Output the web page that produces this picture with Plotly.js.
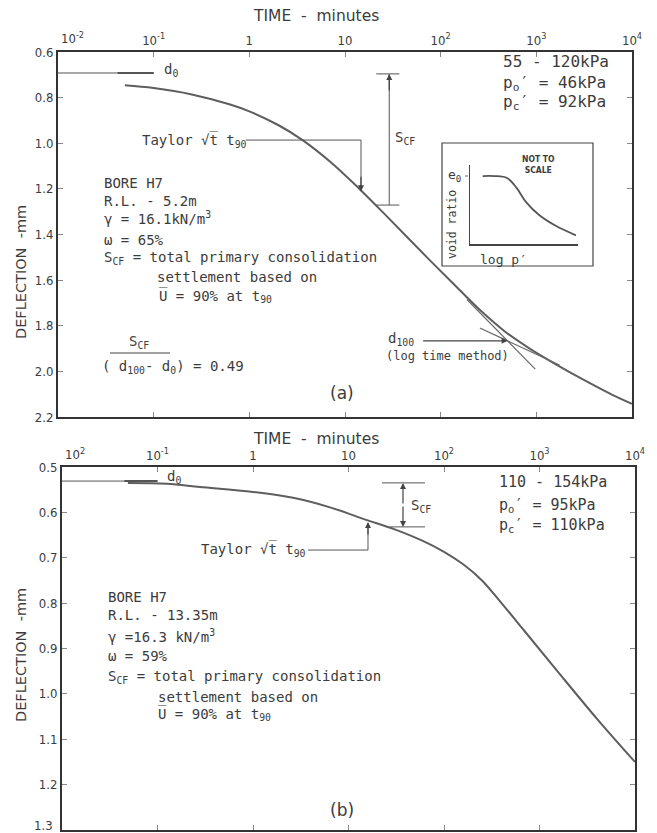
<!DOCTYPE html>
<html><head><meta charset="utf-8">
<script src="https://cdn.plot.ly/plotly-3.0.1.min.js"></script>
<style>html,body{margin:0;padding:0;background:#fff}#chart{width:657px;height:833px}</style>
</head><body><div id="chart"></div>
<script>
// ---------- data ----------
const timeTickVals = [0.01, 0.1, 1, 10, 100, 1000, 10000];
const timeTickTextA = ['10<sup>-2</sup>', '10<sup>-1</sup>', '1', '10', '10<sup>2</sup>', '10<sup>3</sup>', '10<sup>4</sup>'];
const timeTickTextB = ['10<sup>2</sup>', '10<sup>-1</sup>', '1', '10', '10<sup>2</sup>', '10<sup>3</sup>', '10<sup>4</sup>'];
const deflTicksA = [0.6, 0.8, 1.0, 1.2, 1.4, 1.6, 1.8, 2.0, 2.2];
const deflTicksB = [0.5, 0.6, 0.7, 0.8, 0.9, 1.0, 1.1, 1.2, 1.3];

// panel (a) consolidation curve (time in minutes, deflection in mm)
const timeA = [0.05, 0.1, 0.25, 0.63, 1, 2, 3.6, 7.1, 14, 28.4, 75, 155, 270, 472, 844, 1585, 3281, 6310, 10000];
const deflA = [0.746, 0.758, 0.786, 0.83, 0.86, 0.92, 0.986, 1.083, 1.198, 1.327, 1.508, 1.640, 1.739, 1.826, 1.899, 1.968, 2.042, 2.104, 2.142];
// log time method tangents (a)
const steepTangentTime = [188, 975];
const steepTangentDefl = [1.685, 1.99];
const tailTangentTime = [257, 1746];
const tailTangentDefl = [1.81, 1.972];
// construction values (a)
const d0A = 0.692, d100A = 1.866, t100A = 501;
const taylorStartA = 0.92, t90A = 14.7, taylorDeflA = 0.986, t90DeflA = 1.21;
const scfTimeA = 29, scfTopA = 0.696, scfBottomA = 1.271, scfCapA = [21.2, 37];

// panel (b) consolidation curve
const timeB = [0.049, 0.126, 0.279, 1, 2.63, 6.4, 15.6, 30, 60, 100, 160, 250, 400, 700, 1500, 4000, 10000];
const deflB = [0.535, 0.537, 0.544, 0.555, 0.568, 0.589, 0.617, 0.637, 0.663, 0.687, 0.715, 0.750, 0.800, 0.862, 0.947, 1.055, 1.150];
// construction values (b)
const d0B = 0.531;
const taylorStartB = 3.77, t90B = 16.0, taylorDeflB = 0.683, t90DeflB = 0.621;
const scfTimeB = 37.2, scfTopB = 0.535, scfBottomB = 0.632, scfTopCapB = [22.4, 63.2], scfBottomCapB = [27.2, 63.2];

// inset (not to scale) void ratio vs log p'
const insetLogP = [0.12, 0.23, 0.35, 0.44, 0.53, 0.65, 0.81, 1.0];
const insetVoid = [0.86, 0.86, 0.835, 0.71, 0.53, 0.37, 0.23, 0.11];

// ---------- helpers ----------
const W = 657, H = 833;
const px = x => x / W;
const py = y => 1 - y / H;
const FONT = 'DejaVu Sans Mono, monospace';
const FONT_T = 'DejaVu Sans, sans-serif';
const FONT_TICK = 'DejaVu Sans Condensed, DejaVu Sans, sans-serif';
const INK = '#3c3c3c';
const LINE = '#555';
const L10 = Math.log10;

const traces = [
  {x: timeA, y: deflA, xaxis: 'x', yaxis: 'y', mode: 'lines', line: {color: '#5e5e5e', width: 2, shape: 'spline', smoothing: 1}},
  {x: steepTangentTime, y: steepTangentDefl, xaxis: 'x', yaxis: 'y', mode: 'lines', line: {color: '#6a6a6a', width: 1.2}},
  {x: tailTangentTime, y: tailTangentDefl, xaxis: 'x', yaxis: 'y', mode: 'lines', line: {color: '#6a6a6a', width: 1.2}},
  {x: [0.01, 0.1], y: [d0A, d0A], xaxis: 'x', yaxis: 'y', mode: 'lines', line: {color: LINE, width: 1}},
  {x: [0.042, 0.1], y: [d0A, d0A], xaxis: 'x', yaxis: 'y', mode: 'lines', line: {color: LINE, width: 2}},
  {x: [taylorStartA, t90A, t90A], y: [taylorDeflA, taylorDeflA, t90DeflA], xaxis: 'x', yaxis: 'y', mode: 'lines', line: {color: LINE, width: 1}},
  {x: [scfTimeA, scfTimeA, null, scfCapA[0], scfCapA[1], null, scfCapA[0], scfCapA[1]],
   y: [scfTopA, scfBottomA, null, scfTopA, scfTopA, null, scfBottomA, scfBottomA], xaxis: 'x', yaxis: 'y', mode: 'lines', line: {color: LINE, width: 1}},

  {x: timeB, y: deflB, xaxis: 'x2', yaxis: 'y2', mode: 'lines', line: {color: '#5e5e5e', width: 2, shape: 'spline', smoothing: 1}},
  {x: [0.01, 0.1], y: [d0B, d0B], xaxis: 'x2', yaxis: 'y2', mode: 'lines', line: {color: LINE, width: 1}},
  {x: [0.045, 0.1], y: [d0B, d0B], xaxis: 'x2', yaxis: 'y2', mode: 'lines', line: {color: LINE, width: 2}},
  {x: [taylorStartB, t90B, t90B], y: [taylorDeflB, taylorDeflB, t90DeflB + 0.012], xaxis: 'x2', yaxis: 'y2', mode: 'lines', line: {color: LINE, width: 1}},
  {x: [scfTopCapB[0], scfTopCapB[1], null, scfBottomCapB[0], scfBottomCapB[1]],
   y: [scfTopB, scfTopB, null, scfBottomB, scfBottomB], xaxis: 'x2', yaxis: 'y2', mode: 'lines', line: {color: LINE, width: 1}},

  {x: insetLogP, y: insetVoid, xaxis: 'x3', yaxis: 'y3', mode: 'lines', line: {color: '#555', width: 1.8, shape: 'spline'}}
];

const axisCommon = {
  type: 'log', range: [-2, 4], tickvals: timeTickVals, ticks: 'inside', ticklen: 5, tickwidth: 1, tickcolor: '#888',
  showline: true, linecolor: '#333', linewidth: 2, mirror: 'ticks', showgrid: false, zeroline: false,
  tickfont: {family: FONT_TICK, size: 13, color: INK}, side: 'top'
};
const yCommon = {
  ticks: 'inside', ticklen: 5, tickwidth: 1, tickcolor: '#888', showline: true, linecolor: '#333', linewidth: 2,
  mirror: 'ticks', showgrid: false, zeroline: false, tickfont: {family: FONT_TICK, size: 13, color: INK}
};

// labels at the very corners are drawn as annotations (beside the corner, as in the figure)
const tickTextShownA = timeTickTextA.map((t, i) => i === 0 ? '' : t);
const tickTextShownB = timeTickTextB.map((t, i) => i === 0 ? '' : t);
const deflTextB = deflTicksB.map((v, i) => i === deflTicksB.length - 1 ? '' : v.toFixed(1));

const layout = {
  width: W, height: H, margin: {l: 0, r: 0, t: 0, b: 0}, showlegend: false,
  paper_bgcolor: '#fff', plot_bgcolor: 'rgba(0,0,0,0)',
  xaxis: Object.assign({}, axisCommon, {domain: [px(58), px(632)], anchor: 'y', ticktext: tickTextShownA}),
  yaxis: Object.assign({}, yCommon, {domain: [py(417), py(52)], anchor: 'x', range: [2.2, 0.6], tickvals: deflTicksA, ticktext: deflTicksA.map(v => v.toFixed(1))}),
  xaxis2: Object.assign({}, axisCommon, {domain: [px(62), px(635)], anchor: 'y2', ticktext: tickTextShownB}),
  yaxis2: Object.assign({}, yCommon, {domain: [py(830), py(467)], anchor: 'x2', range: [1.3, 0.5], tickvals: deflTicksB, ticktext: deflTextB}),
  xaxis3: {domain: [px(470), px(578)], anchor: 'y3', range: [0, 1.02], showline: true, linecolor: '#444', linewidth: 1.5, ticks: '', showticklabels: false, showgrid: false, zeroline: false},
  yaxis3: {domain: [py(244), py(165)], anchor: 'x3', range: [0, 1], showline: true, linecolor: '#444', linewidth: 1.5, ticks: '', showticklabels: false, showgrid: false, zeroline: false},
  shapes: [
    {type: 'rect', xref: 'paper', yref: 'paper', x0: px(442), x1: px(593), y0: py(143), y1: py(266), line: {color: '#444', width: 1.2}},
    {type: 'line', xref: 'paper', yref: 'paper', x0: px(465), x1: px(470), y0: py(176), y1: py(176), line: {color: '#666', width: 1, dash: 'dot'}},
    {type: 'line', xref: 'paper', yref: 'paper', x0: px(110), x1: px(170), y0: py(353), y1: py(353), line: {color: '#444', width: 1}}
  ],
  annotations: []
};

function txt(text, x, y, size, opts, fam) {
  layout.annotations.push(Object.assign({
    text: text, xref: 'paper', yref: 'paper', x: px(x), y: py(y), xanchor: 'left', yanchor: 'middle',
    showarrow: false, font: {family: fam || FONT, size: size, color: INK}
  }, opts || {}));
}
function arrow(xr, yr, x, y, ax, ay) {
  layout.annotations.push({text: '', xref: xr, yref: yr, x: x, y: y, ax: ax, ay: ay, showarrow: true,
    arrowhead: 2, arrowsize: 1, arrowwidth: 1.2, arrowcolor: '#444'});
}

// axis titles and corner tick labels
txt('TIME  -  minutes', 316, 16, 15.5, {xanchor: 'center'}, FONT_T);
txt('TIME  -  minutes', 316, 439, 15.5, {xanchor: 'center'}, FONT_T);
txt('DEFLECTION  -mm', 21, 272, 14.5, {xanchor: 'center', textangle: -90}, FONT_T);
txt('DEFLECTION  -mm', 21, 655, 14.5, {xanchor: 'center', textangle: -90}, FONT_T);
txt(timeTickTextA[0], 59, 38, 13, {}, FONT_TICK);
txt(timeTickTextB[0], 63, 454, 13, {}, FONT_TICK);
txt(deflTicksB[deflTicksB.length - 1].toFixed(1), 55, 825, 13, {xanchor: 'right'}, FONT_TICK);

// panel (a) texts
txt('d<sub>0</sub>', 162, 70, 14);
txt('55 - 120kPa', 501, 61, 16);
txt('p<sub>o</sub>\u2032 = 46kPa', 501, 84, 16);
txt('p<sub>c</sub>\u2032 = 92kPa', 501, 103, 16);
txt('Taylor \u221At\u0305 t<sub>90</sub>', 140, 140, 14);
txt('S<sub>CF</sub>', 393, 138, 14);
txt('BORE H7', 102, 183, 14);
txt('R.L. - 5.2m', 102, 201, 14);
txt('\u03B3 = 16.1kN/m<sup>3</sup>', 102, 218, 14);
txt('\u03C9 = 65%', 102, 240, 14);
txt('S<sub>CF</sub> = total primary consolidation', 102, 258, 14);
txt('settlement based on', 155, 277, 14);
txt('U\u0305 = 90% at t<sub>90</sub>', 157, 296, 14);
txt('S<sub>CF</sub>', 127, 342, 14);
txt('( d<sub>100</sub>- d<sub>0</sub>) = 0.49', 100, 367, 14);
txt('d<sub>100</sub>', 386, 339, 14);
txt('(log time method)', 384, 356, 12);
txt('(a)', 342, 393, 17, {xanchor: 'center'}, FONT_T);
// inset texts
txt('e<sub>0</sub>', 454, 175, 13, {xanchor: 'center'});
txt('<b>NOT TO<br>SCALE</b>', 538, 165, 8.5, {xanchor: 'center'}, FONT_TICK);
txt('void ratio', 452, 225, 11.5, {xanchor: 'center', textangle: -90});
txt('log p\u2032', 503, 259, 13, {xanchor: 'center'});

// panel (a) arrows
arrow('x', 'y', L10(t100A), d100A, -86, 0);
arrow('x', 'y', L10(t90A), t90DeflA, 0, -16);
arrow('x', 'y', L10(scfTimeA), scfTopA, 0, 18);

// panel (b) texts
txt('d<sub>0</sub>', 165, 477, 14);
txt('110 - 154kPa', 497, 482, 15);
txt('p<sub>o</sub>\u2032 = 95kPa', 497, 505, 15);
txt('p<sub>c</sub>\u2032 = 110kPa', 497, 525, 15);
txt('Taylor \u221At\u0305 t<sub>90</sub>', 199, 549, 14);
txt('S<sub>CF</sub>', 409, 506, 14);
txt('BORE H7', 106, 597, 14);
txt('R.L. - 13.35m', 106, 615, 14);
txt('\u03B3 =16.3 kN/m<sup>3</sup>', 106, 636, 14);
txt('\u03C9 = 59%', 106, 656, 14);
txt('S<sub>CF</sub> = total primary consolidation', 106, 677, 14);
txt('settlement based on', 156, 697, 14);
txt('U\u0305 = 90% at t<sub>90</sub>', 156, 714, 14);
txt('(b)', 342, 810, 17, {xanchor: 'center'}, FONT_T);

// panel (b) arrows
arrow('x2', 'y2', L10(t90B), t90DeflB, 0, 14);
arrow('x2', 'y2', L10(scfTimeB), scfTopB, 0, 22);
arrow('x2', 'y2', L10(scfTimeB), scfBottomB, 0, -22);

Plotly.newPlot('chart', traces, layout, {staticPlot: true, displayModeBar: false});
</script>
</body></html>
